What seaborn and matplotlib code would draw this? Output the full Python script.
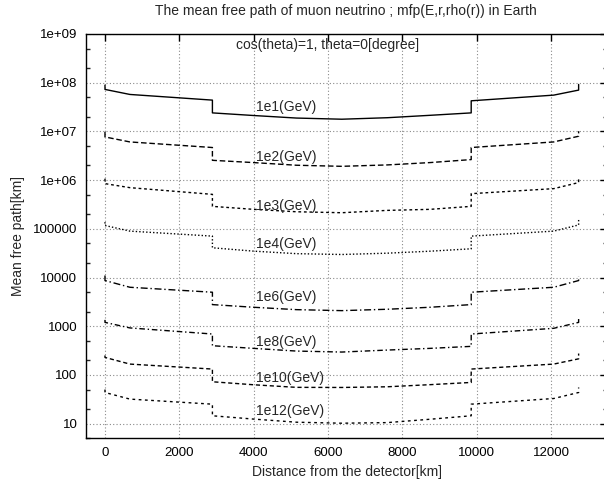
import numpy as np
import pandas as pd
import matplotlib
matplotlib.use("Agg")
import matplotlib.pyplot as plt
import seaborn as sns
from matplotlib.ticker import FixedLocator, NullFormatter

# ---- data ----
distance_km = [0, 0, 670, 2890, 2890, 4000, 5150, 6371, 7592, 8742, 9852, 9852, 12072, 12742, 12742]

mfp_1e1 = [8.9e7, 7.28e7, 5.74e7, 4.39e7, 2.40e7, 2.12e7, 1.88e7, 1.78e7, 1.91e7, 2.14e7, 2.40e7, 4.25e7, 5.56e7, 7.05e7, 9.2e7]
mfp_1e2 = [9.8e6, 7.7e6, 6.08e6, 4.67e6, 2.55e6, 2.29e6, 2.02e6, 1.92e6, 2.05e6, 2.29e6, 2.64e6, 4.67e6, 6.08e6, 7.96e6, 1.01e7]
mfp_1e3 = [1.07e6, 8.47e5, 7.0e5, 5.1e5, 2.89e5, 2.51e5, 2.24e5, 2.14e5, 2.39e5, 2.51e5, 2.89e5, 5.27e5, 6.68e5, 8.9e5, 1.12e6]
mfp_1e4 = [1.37e5, 1.17e5, 8.97e4, 7.08e4, 4.08e4, 3.48e4, 3.09e4, 2.97e4, 3.16e4, 3.47e4, 3.89e4, 7.08e4, 8.97e4, 1.2e5, 1.54e5]
mfp_1e6 = [1.10e4, 8.67e3, 6.31e3, 4.99e3, 2.78e3, 2.45e3, 2.19e3, 2.09e3, 2.23e3, 2.45e3, 2.78e3, 4.99e3, 6.31e3, 8.67e3, 1.05e4]
mfp_1e8 = [1.35e3, 1.20e3, 923, 692, 398, 351, 309, 295, 324, 351, 386, 692, 906, 1.20e3, 1.48e3]
mfp_1e10 = [251, 229, 167, 132, 72.4, 62.8, 55.6, 55.3, 57.1, 63.1, 70.1, 132, 167, 214, 275]
mfp_1e12 = [50.1, 43.6, 31.9, 25.1, 14.5, 12.4, 10.7, 10.2, 10.5, 12.3, 14.5, 25.1, 32.8, 43.6, 55.3]

energies = ["1e1(GeV)", "1e2(GeV)", "1e3(GeV)", "1e4(GeV)", "1e6(GeV)", "1e8(GeV)", "1e10(GeV)", "1e12(GeV)"]
series = [mfp_1e1, mfp_1e2, mfp_1e3, mfp_1e4, mfp_1e6, mfp_1e8, mfp_1e10, mfp_1e12]

x_ticks = [0, 2000, 4000, 6000, 8000, 10000, 12000]
y_ticks = [10, 100, 1000, 10000, 100000, 1e6, 1e7, 1e8, 1e9]
y_tick_labels = ["10", "100", "1000", "10000", "100000", "1e+06", "1e+07", "1e+08", "1e+09"]

title = "The mean free path of muon neutrino ; mfp(E,r,rho(r)) in Earth"
subtitle = "cos(theta)=1, theta=0[degree]"

# ---- styles / positions ----
label_x = 4050
label_y = [3.2e7, 2.95e6, 3.0e5, 4.9e4, 3.9e3, 475, 87, 18.2]
dash_styles = ["", (4, 2), (2, 2), (1, 1.5), (5, 2, 1, 2), (4, 2, 1, 2), (3, 2), (2, 2.5)]

rows = []
for name, vals in zip(energies, series):
    for xv, yv in zip(distance_km, vals):
        rows.append({"x": xv, "y": yv, "E": name})
df = pd.DataFrame(rows)

sns.set_style("white")
plt.rcParams["font.family"] = ["Liberation Sans", "DejaVu Sans"]
plt.rcParams["font.size"] = 9.5

fig = plt.figure(figsize=(6.04, 4.86), dpi=100)
L, R, T, B = 86.4, 606.8, 34.0, 438.3
ax = fig.add_axes([L / 604, (486 - B) / 486, (R - L) / 604, (B - T) / 486])

ax.set_yscale("log")
sns.lineplot(data=df, x="x", y="y", hue="E", style="E",
             palette=["black"] * len(energies),
             dashes=dict(zip(energies, dash_styles)),
             sort=False, estimator=None, legend=False, lw=1.0, ax=ax)

ax.set_xlim(-500, 13500)
ax.set_ylim(5, 1e9)

ax.set_xticks(x_ticks)
ax.set_xticklabels([str(v) for v in x_ticks])
ax.yaxis.set_major_locator(FixedLocator(y_ticks))
ax.set_yticklabels(y_tick_labels)
minor = [m * 10.0 ** k for k in range(0, 9) for m in (2, 5)]
ax.yaxis.set_minor_locator(FixedLocator([v for v in minor if 5 <= v <= 1e9]))
ax.yaxis.set_minor_formatter(NullFormatter())

ax.tick_params(axis="both", which="major", direction="in", length=5, width=1,
               top=True, right=True, pad=6.5, labelsize=9.5, colors="black")
ax.tick_params(axis="y", which="minor", direction="in", length=3, width=1,
               left=True, right=True)

ax.grid(True, which="major", color="#8a8a8a", linestyle=(0, (1, 2)), linewidth=0.8)
for s in ax.spines.values():
    s.set_color("black")
    s.set_linewidth(1)

for name, ly in zip(energies, label_y):
    ax.text(label_x, ly, name, ha="left", va="center", fontsize=10)

ax.text(6000, 6.0e8, subtitle, ha="center", va="center", fontsize=10)

ax.set_xlabel("Distance from the detector[km]", fontsize=10, labelpad=4)
ax.set_ylabel("Mean free path[km]", fontsize=10, labelpad=6)
fig.text(346 / 604, 1 - 11 / 486, title, ha="center", va="center", fontsize=10)

fig.savefig("out.png", dpi=100)
